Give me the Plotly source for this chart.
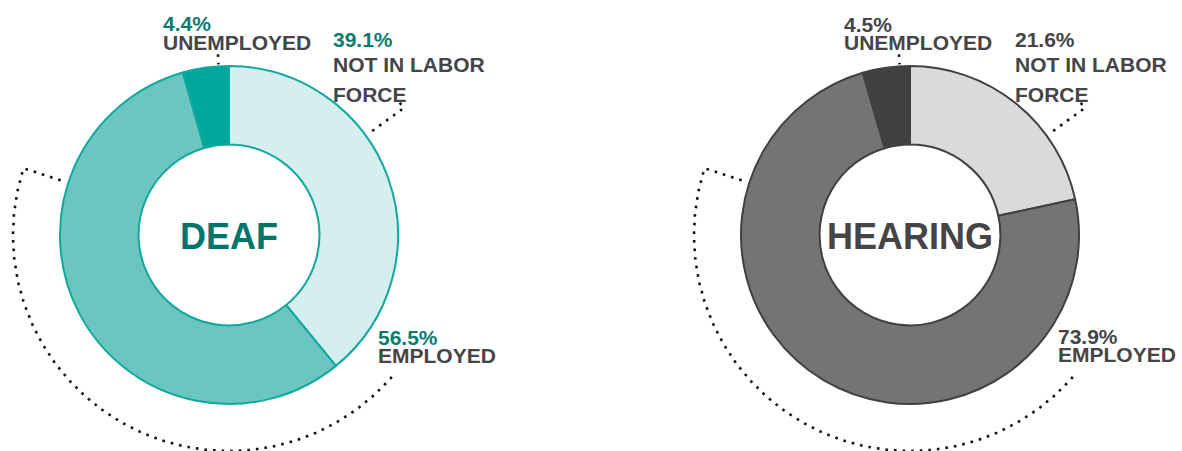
import numpy as np
import plotly.graph_objects as go

# ---------------- data ----------------
categories = ["Not in labor force", "Employed", "Unemployed"]
deaf_values = [39.1, 56.5, 4.4]
hearing_values = [21.6, 73.9, 4.5]
group_titles = ["DEAF", "HEARING"]
nilf_label_lines = ["NOT IN LABOR", "FORCE"]
employed_label = "EMPLOYED"
unemployed_label = "UNEMPLOYED"

# ---------------- styling / layout constants ----------------
W, H = 1182, 451
FONT = "Liberation Sans, Arial, sans-serif"
LABEL_GRAY = "#454547"
styles = [
    dict(colors=["#d5eeef", "#6bc6c0", "#00a89c"], line="#12a89e",
         pct="#0c7c70", title="#00766a"),
    dict(colors=["#dadada", "#747476", "#414143"], line="#404042",
         pct="#454547", title="#454547"),
]
centers = [(229, 235), (910, 235)]
R = 169
HOLE = 0.535
DOT_COLOR = "#111111"
DASH = "2.6px,6px"
DOT_W = 2.6


def polar(cx, cy, r, theta_deg):
    t = np.radians(theta_deg)
    return cx + r * np.sin(t), cy - r * np.cos(t)


fig = go.Figure()

all_values = [deaf_values, hearing_values]
for i, vals in enumerate(all_values):
    cx, cy = centers[i]
    st = styles[i]
    fig.add_trace(go.Pie(
        labels=categories, values=vals, sort=False, direction="clockwise",
        rotation=0, hole=HOLE, textinfo="none", hoverinfo="skip",
        marker=dict(colors=st["colors"], line=dict(color=st["line"], width=2)),
        domain=dict(x=[(cx - R) / W, (cx + R) / W],
                    y=[1 - (cy + R) / H, 1 - (cy - R) / H]),
        showlegend=False,
    ))

    # dotted connectors
    # employed bracket: radial tick then arc
    tx, ty = polar(cx, cy, np.array([177, 216]), 288)
    ax_, ay_ = polar(cx, cy, 216, np.linspace(288, 129.5, 160))
    fig.add_trace(go.Scatter(
        x=np.concatenate([tx, ax_]), y=np.concatenate([ty, ay_]),
        mode="lines", line=dict(color=DOT_COLOR, width=DOT_W, dash=DASH),
        hoverinfo="skip", showlegend=False))
    # not in labor force connector
    nx, ny = polar(cx, cy, np.array([177, 216]), 54)
    n2x, n2y = polar(cx, cy, 216, np.linspace(54, 51, 5))
    fig.add_trace(go.Scatter(
        x=np.concatenate([nx, n2x]), y=np.concatenate([ny, n2y]),
        mode="lines", line=dict(color=DOT_COLOR, width=DOT_W, dash=DASH),
        hoverinfo="skip", showlegend=False))
    # unemployed connector
    ux, uy = polar(cx, cy, np.array([181, 171]), 356.5)
    fig.add_trace(go.Scatter(
        x=ux, y=uy, mode="lines",
        line=dict(color=DOT_COLOR, width=DOT_W, dash=DASH),
        hoverinfo="skip", showlegend=False))

annotations = []


def add_text(x, y, text, color, size=21, xanchor="left"):
    annotations.append(dict(
        x=x, y=y, xref="x", yref="y", text="<b>%s</b>" % text,
        showarrow=False, xanchor=xanchor, yanchor="middle",
        font=dict(family=FONT, size=size, color=color)))


label_pos = [
    dict(un=(161, 23, 42), nilf=(331, 39, 64.5, 94.5), emp=(376, 337, 355)),
    dict(un=(842, 24.5, 42), nilf=(1013, 39, 64.5, 94.5), emp=(1056, 336, 354.5)),
]
for i, vals in enumerate(all_values):
    st = styles[i]
    lp = label_pos[i]
    nilf_v, emp_v, un_v = vals
    # unemployed
    add_text(lp["un"][0], lp["un"][1], f"{un_v:.1f}%", st["pct"])
    add_text(lp["un"][0], lp["un"][2], unemployed_label, LABEL_GRAY)
    # not in labor force
    add_text(lp["nilf"][0], lp["nilf"][1], f"{nilf_v:.1f}%", st["pct"])
    add_text(lp["nilf"][0], lp["nilf"][2], nilf_label_lines[0], LABEL_GRAY)
    add_text(lp["nilf"][0], lp["nilf"][3], nilf_label_lines[1], LABEL_GRAY)
    # employed
    add_text(lp["emp"][0], lp["emp"][1], f"{emp_v:.1f}%", st["pct"])
    add_text(lp["emp"][0], lp["emp"][2], employed_label, LABEL_GRAY)
    # center title
    cx, cy = centers[i]
    add_text(cx, cy + 1.5, group_titles[i], st["title"], size=36, xanchor="center")

fig.update_layout(
    width=W, height=H, autosize=False,
    margin=dict(l=0, r=0, t=0, b=0, pad=0),
    paper_bgcolor="white", plot_bgcolor="rgba(0,0,0,0)",
    xaxis=dict(range=[0, W], visible=False, fixedrange=True, domain=[0, 1]),
    yaxis=dict(range=[H, 0], visible=False, fixedrange=True, domain=[0, 1]),
    annotations=annotations,
    showlegend=False,
)

fig.write_html(
    "out.html",
    config={"displayModeBar": False},
    post_script="document.body.style.margin='0';document.body.style.overflow='hidden';",
)
